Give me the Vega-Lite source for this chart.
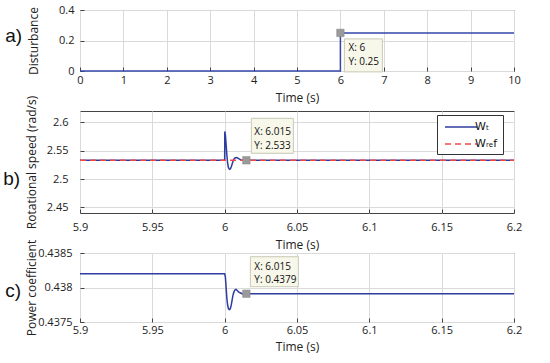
{
  "$schema": "https://vega.github.io/schema/vega-lite/v6.json",
  "padding": {"left": 2, "top": 3, "right": 10, "bottom": 5},
  "background": "white",
  "spacing": 40,
  "bounds": "flush",
  "config": {
    "font": "Open Sans",
    "view": {"stroke": "#444", "strokeWidth": 1},
    "axis": {
      "labelFont": "Open Sans", "labelFontSize": 11, "labelColor": "#222",
      "titleFont": "Open Sans", "titleFontSize": 12, "titleFontWeight": "normal", "titleColor": "#222",
      "gridColor": "#dadada", "gridWidth": 1, "domain": false, "grid": true,
      "ticks": true, "tickSize": -4, "tickColor": "#444", "tickCount": 20,
      "labelOverlap": false, "labelFlush": false
    },
    "title": {"font": "Liberation Sans", "fontSize": 19, "fontWeight": "normal", "color": "#111"}
  },
  "vconcat": [
    {
      "width": 434, "height": 61,
      "title": {"text": "a)", "orient": "left", "angle": 0, "align": "right", "baseline": "middle", "anchor": "middle", "offset": -12, "dy": -5},
      "layer": [
        {
          "data": {"values": [
            {"t": 0, "d": 0, "i": 0}, {"t": 6, "d": 0, "i": 1},
            {"t": 6, "d": 0.25, "i": 2}, {"t": 10, "d": 0.25, "i": 3}
          ]},
          "mark": {"type": "line", "color": "#3545aa", "strokeWidth": 1.5},
          "encoding": {
            "x": {"field": "t", "type": "quantitative", "scale": {"domain": [0, 10], "nice": false},
                  "axis": {"title": "Time (s)", "values": [0,1,2,3,4,5,6,7,8,9,10], "tickCount": 20, "format": "~g", "labelPadding": 7.5, "titlePadding": 7, "grid": true}},
            "y": {"field": "d", "type": "quantitative", "scale": {"domain": [0, 0.4], "nice": false},
                  "axis": {"title": "Disturbance", "values": [0, 0.2, 0.4], "tickCount": 20, "format": "~g", "labelPadding": 10, "titleX": -47, "titleBaseline": "middle", "grid": true}},
            "order": {"field": "i"}
          }
        },
        {
          "data": {"values": [{"t": 6, "d": 0.25, "label": ["X: 6", "Y: 0.25"]}]},
          "layer": [
            {"mark": {"type": "point", "shape": "M0.4,0.6H4.2V3.9H0.4Z", "size": 400, "filled": true, "fill": "#f7f7ea", "stroke": "#c9c9b5", "strokeWidth": 1, "opacity": 1}},
            {"mark": {"type": "point", "shape": "square", "size": 56, "filled": true, "fill": "#9a9a9a", "stroke": "#888", "strokeWidth": 0.5, "opacity": 1}},
            {"mark": {"type": "text", "align": "left", "baseline": "top", "dx": 8, "dy": 10, "fontSize": 10, "lineHeight": 14, "font": "Open Sans", "color": "#111"},
             "encoding": {"text": {"field": "label"}}}
          ],
          "encoding": {
            "x": {"field": "t", "type": "quantitative"},
            "y": {"field": "d", "type": "quantitative"}
          }
        }
      ]
    },
    {
      "width": 434, "height": 102,
      "title": {"text": "b)", "orient": "left", "angle": 0, "align": "right", "baseline": "middle", "anchor": "middle", "offset": -12, "dy": 17},
      "layer": [
        {
          "data": {"values": [
            {"t": 5.9, "w": 2.533, "series": "Wt"},
            {"t": 6.0, "w": 2.533, "series": "Wt"},
            {"t": 6.0001, "w": 2.584, "series": "Wt"},
            {"t": 6.0005, "w": 2.578, "series": "Wt"},
            {"t": 6.001, "w": 2.561, "series": "Wt"},
            {"t": 6.0015, "w": 2.543, "series": "Wt"},
            {"t": 6.002, "w": 2.529, "series": "Wt"},
            {"t": 6.0025, "w": 2.521, "series": "Wt"},
            {"t": 6.003, "w": 2.518, "series": "Wt"},
            {"t": 6.0035, "w": 2.517, "series": "Wt"},
            {"t": 6.004, "w": 2.518, "series": "Wt"},
            {"t": 6.0045, "w": 2.521, "series": "Wt"},
            {"t": 6.005, "w": 2.525, "series": "Wt"},
            {"t": 6.0055, "w": 2.529, "series": "Wt"},
            {"t": 6.006, "w": 2.533, "series": "Wt"},
            {"t": 6.0065, "w": 2.5355, "series": "Wt"},
            {"t": 6.007, "w": 2.537, "series": "Wt"},
            {"t": 6.0075, "w": 2.5376, "series": "Wt"},
            {"t": 6.008, "w": 2.5378, "series": "Wt"},
            {"t": 6.0085, "w": 2.5375, "series": "Wt"},
            {"t": 6.009, "w": 2.537, "series": "Wt"},
            {"t": 6.01, "w": 2.5355, "series": "Wt"},
            {"t": 6.011, "w": 2.534, "series": "Wt"},
            {"t": 6.012, "w": 2.5333, "series": "Wt"},
            {"t": 6.013, "w": 2.533, "series": "Wt"},
            {"t": 6.2, "w": 2.533, "series": "Wt"},
            {"t": 5.9, "w": 2.533, "series": "Wref"},
            {"t": 6.2, "w": 2.533, "series": "Wref"}
          ]},
          "mark": {"type": "line", "strokeWidth": 1.5},
          "encoding": {
            "x": {"field": "t", "type": "quantitative", "scale": {"domain": [5.9, 6.2], "nice": false},
                  "axis": {"title": "Time (s)", "values": [5.9, 5.95, 6, 6.05, 6.1, 6.15, 6.2], "tickCount": 20, "format": "~g", "labelPadding": 12, "titlePadding": 7, "grid": true}},
            "y": {"field": "w", "type": "quantitative", "scale": {"domain": [2.44, 2.62], "nice": false, "zero": false},
                  "axis": {"title": "Rotational speed (rad/s)", "values": [2.45, 2.5, 2.55, 2.6], "tickCount": 20, "format": "~g", "labelPadding": 16, "titleX": -49, "titleBaseline": "middle", "grid": true}},
            "color": {"field": "series", "type": "nominal",
                      "scale": {"domain": ["Wt", "Wref"], "range": ["#2d3c9e", "#f04848"]},
                      "legend": {"title": null, "orient": "none", "legendX": 357, "legendY": 105,
                                 "strokeColor": "#333", "fillColor": "white", "padding": 5,
                                 "symbolType": "M-0.667,0H4.667", "symbolSize": 144, "symbolStrokeWidth": 1.5,
                                 "labelOffset": 19, "rowPadding": 5,
                                 "labelFont": "DejaVu Sans", "labelFontSize": 11, "labelColor": "#111",
                                 "labelExpr": "datum.label == 'Wt' ? 'Wₜ' : 'Wᵣₑf'"}},
            "strokeDash": {"field": "series", "type": "nominal",
                           "scale": {"domain": ["Wt", "Wref"], "range": [[1, 0], [6, 4]]},
                           "legend": {"title": null, "orient": "none", "legendX": 357, "legendY": 105,
                                 "strokeColor": "#333", "fillColor": "white", "padding": 5,
                                 "symbolType": "M-0.667,0H4.667", "symbolSize": 144, "symbolStrokeWidth": 1.5,
                                 "labelOffset": 19, "rowPadding": 5,
                                 "labelFont": "DejaVu Sans", "labelFontSize": 11, "labelColor": "#111",
                                 "labelExpr": "datum.label == 'Wt' ? 'Wₜ' : 'Wᵣₑf'"}}
          }
        },
        {
          "data": {"values": [{"t": 6.015, "w": 2.533, "label": ["X: 6.015", "Y: 2.533"]}]},
          "layer": [
            {"mark": {"type": "point", "shape": "M0.5,-4.2H4.7V-0.7H0.5Z", "size": 400, "filled": true, "fill": "#f7f7ea", "stroke": "#c9c9b5", "strokeWidth": 1, "opacity": 1}},
            {"mark": {"type": "point", "shape": "square", "size": 56, "filled": true, "fill": "#9a9a9a", "stroke": "#888", "strokeWidth": 0.5, "opacity": 1}},
            {"mark": {"type": "text", "align": "left", "baseline": "top", "dx": 8, "dy": -33, "fontSize": 10, "lineHeight": 14, "font": "Open Sans", "color": "#111"},
             "encoding": {"text": {"field": "label"}}}
          ],
          "encoding": {
            "x": {"field": "t", "type": "quantitative"},
            "y": {"field": "w", "type": "quantitative"}
          }
        }
      ]
    },
    {
      "width": 434, "height": 69,
      "title": {"text": "c)", "orient": "left", "angle": 0, "align": "right", "baseline": "middle", "anchor": "middle", "offset": -12, "dy": 3},
      "layer": [
        {
          "data": {"values": [
            {"t": 5.9, "cp": 0.4382},
            {"t": 6.0, "cp": 0.4382},
            {"t": 6.0005, "cp": 0.43815},
            {"t": 6.001, "cp": 0.43800},
            {"t": 6.0015, "cp": 0.43785},
            {"t": 6.002, "cp": 0.43775},
            {"t": 6.0025, "cp": 0.43770},
            {"t": 6.003, "cp": 0.43768},
            {"t": 6.0035, "cp": 0.43768},
            {"t": 6.004, "cp": 0.43770},
            {"t": 6.0045, "cp": 0.43774},
            {"t": 6.005, "cp": 0.43780},
            {"t": 6.0055, "cp": 0.43786},
            {"t": 6.006, "cp": 0.43791},
            {"t": 6.0065, "cp": 0.43794},
            {"t": 6.007, "cp": 0.43796},
            {"t": 6.0075, "cp": 0.43797},
            {"t": 6.008, "cp": 0.43797},
            {"t": 6.0085, "cp": 0.43796},
            {"t": 6.009, "cp": 0.43795},
            {"t": 6.01, "cp": 0.43793},
            {"t": 6.011, "cp": 0.43792},
            {"t": 6.012, "cp": 0.43791},
            {"t": 6.2, "cp": 0.43791}
          ]},
          "mark": {"type": "line", "color": "#2d3c9e", "strokeWidth": 1.5},
          "encoding": {
            "x": {"field": "t", "type": "quantitative", "scale": {"domain": [5.9, 6.2], "nice": false},
                  "axis": {"title": "Time (s)", "values": [5.9, 5.95, 6, 6.05, 6.1, 6.15, 6.2], "tickCount": 20, "format": "~g", "labelPadding": 6.5, "titlePadding": 5.5, "grid": true}},
            "y": {"field": "cp", "type": "quantitative", "scale": {"domain": [0.4375, 0.4385], "nice": false, "zero": false},
                  "axis": {"title": "Power coefficient", "values": [0.4375, 0.438, 0.4385], "tickCount": 20, "format": "~g", "labelPadding": 12, "titleX": -49, "titleBaseline": "middle", "grid": true}}
          }
        },
        {
          "data": {"values": [{"t": 6.015, "cp": 0.43791, "label": ["X: 6.015", "Y: 0.4379"]}]},
          "layer": [
            {"mark": {"type": "point", "shape": "M0.4,-3.7H5.2V-0.7H0.4Z", "size": 400, "filled": true, "fill": "#f7f7ea", "stroke": "#c9c9b5", "strokeWidth": 1, "opacity": 1}},
            {"mark": {"type": "point", "shape": "square", "size": 56, "filled": true, "fill": "#9a9a9a", "stroke": "#888", "strokeWidth": 0.5, "opacity": 1}},
            {"mark": {"type": "text", "align": "left", "baseline": "top", "dx": 8, "dy": -32, "fontSize": 10, "lineHeight": 13, "font": "Open Sans", "color": "#111"},
             "encoding": {"text": {"field": "label"}}}
          ],
          "encoding": {
            "x": {"field": "t", "type": "quantitative"},
            "y": {"field": "cp", "type": "quantitative"}
          }
        }
      ]
    }
  ]
}
